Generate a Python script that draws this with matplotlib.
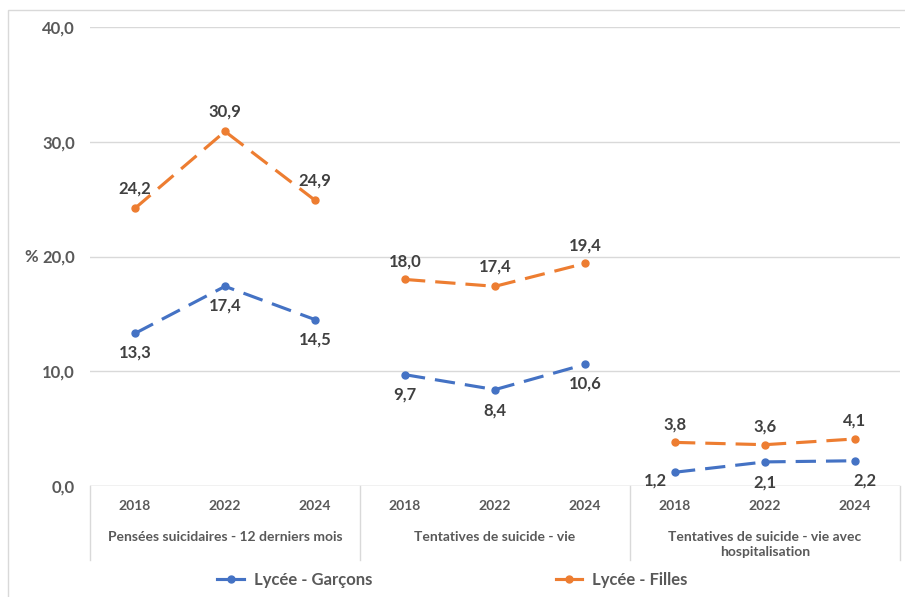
import numpy as np
import matplotlib.pyplot as plt
from matplotlib.lines import Line2D

# data
years = ["2018", "2022", "2024"]
groups = ["Pensées suicidaires - 12 derniers mois",
          "Tentatives de suicide - vie",
          "Tentatives de suicide - vie avec\nhospitalisation"]
garcons = [[13.3, 17.4, 14.5], [9.7, 8.4, 10.6], [1.2, 2.1, 2.2]]
filles = [[24.2, 30.9, 24.9], [18.0, 17.4, 19.4], [3.8, 3.6, 4.1]]

blue = "#4472C4"
orange = "#ED7D31"
txt = "#404040"
tick_col = "#595959"
grid_col = "#D9D9D9"

plt.rcParams['font.family'] = ['Lato', 'DejaVu Sans']

fig = plt.figure(figsize=(9.05, 5.97), dpi=100)
ax = fig.add_axes([90 / 905, 1 - 486 / 597, 810 / 905, 459 / 597])

ax.set_xlim(-0.5, 8.5)
ax.set_ylim(0, 40)
ax.set_yticks([0, 10, 20, 30, 40])
ax.set_yticklabels(["0,0", "10,0", "20,0", "30,0", "40,0"])
ax.yaxis.grid(True, color=grid_col, lw=1)
ax.set_axisbelow(True)
for s in ax.spines.values():
    s.set_visible(False)
ax.tick_params(axis="y", length=0, pad=11, labelsize=12, labelcolor=tick_col)
for lab in ax.get_yticklabels():
    lab.set_fontweight("bold")

xt = np.arange(9)
ax.set_xticks(xt)
ax.set_xticklabels(years * 3)
ax.tick_params(axis="x", length=0, pad=10, labelsize=10, labelcolor=tick_col)
for lab in ax.get_xticklabels():
    lab.set_fontweight("bold")

# category separators
ax.axhline(0, color=grid_col, lw=1)
for xs in [-0.5, 2.5, 5.5, 8.5]:
    ax.plot([xs, xs], [0, -0.162], color=grid_col, lw=1,
            transform=ax.get_xaxis_transform(), clip_on=False)
for i, g in enumerate(groups):
    ax.text(3 * i + 1, -0.098, g, transform=ax.get_xaxis_transform(),
            ha="center", va="top", fontsize=10, color=tick_col,
            fontweight="bold", linespacing=1.3)

ax.text(-0.073, 0.5, "%", transform=ax.transAxes, ha="center", va="center",
        fontsize=12, color=tick_col, fontweight="bold")

# lines
blue_off = [[(0, -14), (0, -14), (0, -14)], [(0, -14), (0, -15), (0, -14)],
            [(-14, -6), (0, -15), (7, -14)]]
orange_off = [[(0, 14), (0, 14), (0, 14)], [(0, 13), (0, 14), (0, 13)],
              [(0, 13), (0, 13), (0, 13)]]
for i in range(3):
    x = xt[3 * i:3 * i + 3]
    for vals, col, offs in [(filles[i], orange, orange_off[i]),
                            (garcons[i], blue, blue_off[i])]:
        ax.plot(x, vals, color=col, lw=2.25, dashes=(6.5, 3.2),
                marker="o", ms=5, clip_on=False)
        for xx, v, o in zip(x, vals, offs):
            ax.annotate(f"{v:.1f}".replace(".", ","), (xx, v), xytext=o,
                        textcoords="offset points", ha="center", va="center",
                        fontsize=12, fontweight="bold", color=txt)

handles = [Line2D([], [], color=blue, lw=2.25, marker="o", ms=5),
           Line2D([], [], color=orange, lw=2.25, marker="o", ms=5)]
fig.legend(handles, ["Lycée - Garçons", "Lycée - Filles"], loc="center",
           bbox_to_anchor=(0.5, 1 - 580 / 597), ncol=2, frameon=False,
           handlelength=1.6, columnspacing=11, handletextpad=0.6,
           prop={"size": 12, "weight": "bold"}, labelcolor=tick_col)

# outer frame
fig.patches.append(plt.Rectangle((8 / 905, -0.01), 1.0, 1 - 10 / 597 + 0.01,
                                 transform=fig.transFigure, fill=False,
                                 edgecolor=grid_col, lw=1))

fig.savefig("out.png", dpi=100)
